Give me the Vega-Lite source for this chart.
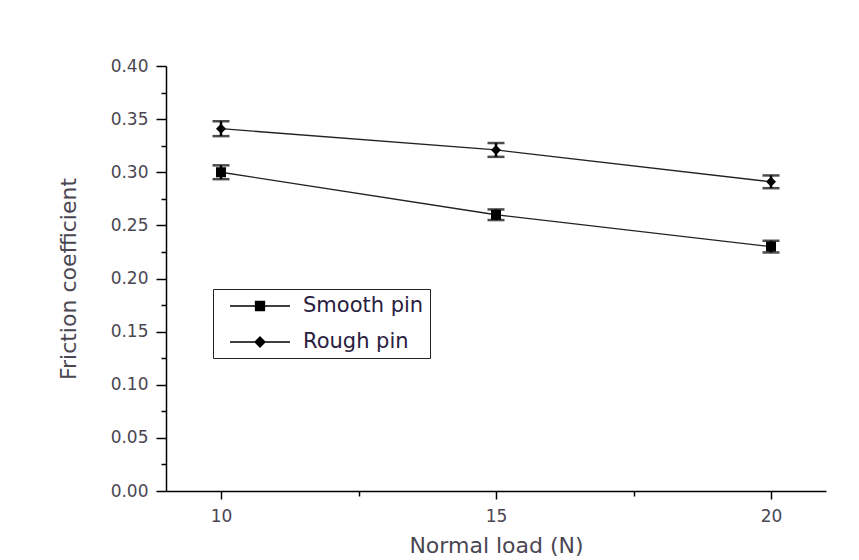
{
  "$schema": "https://vega.github.io/schema/vega-lite/v6.json",
  "width": 660,
  "height": 425,
  "autosize": {"type": "none"},
  "padding": {"left": 166, "top": 66, "right": 33, "bottom": 69},
  "background": "white",
  "config": {"view": {"stroke": null}, "font": "DejaVu Sans"},
  "data": {
    "values": [
      {"load": 10, "series": "Smooth pin", "mu": 0.300, "lo": 0.2935, "hi": 0.3065},
      {"load": 15, "series": "Smooth pin", "mu": 0.260, "lo": 0.255, "hi": 0.265},
      {"load": 20, "series": "Smooth pin", "mu": 0.230, "lo": 0.2245, "hi": 0.2355},
      {"load": 10, "series": "Rough pin", "mu": 0.341, "lo": 0.334, "hi": 0.348},
      {"load": 15, "series": "Rough pin", "mu": 0.321, "lo": 0.3145, "hi": 0.3275},
      {"load": 20, "series": "Rough pin", "mu": 0.291, "lo": 0.285, "hi": 0.297}
    ]
  },
  "layer": [
    {
      "mark": {"type": "rule", "color": "black", "strokeWidth": 2.5},
      "encoding": {
        "x": {"field": "load", "type": "quantitative", "scale": {"domain": [9, 21], "nice": false, "zero": false},
          "axis": {"orient": "bottom", "values": [12.5, 17.5], "labels": false, "domain": false, "grid": false, "tickSize": 5, "tickWidth": 1.5, "tickColor": "black", "title": null}},
        "y": {"field": "lo", "type": "quantitative", "scale": {"domain": [0, 0.4], "nice": false, "zero": true},
          "axis": {"orient": "left", "values": [0.025, 0.075, 0.125, 0.175, 0.225, 0.275, 0.325, 0.375], "labels": false, "domain": false, "grid": false, "tickSize": 5, "tickWidth": 1.5, "tickColor": "black", "title": null}},
        "y2": {"field": "hi"}
      }
    },
    {
      "mark": {"type": "tick", "orient": "horizontal", "size": 17, "thickness": 2.5, "color": "black"},
      "encoding": {
        "x": {"field": "load", "type": "quantitative", "axis": null},
        "y": {"field": "lo", "type": "quantitative", "axis": null}
      }
    },
    {
      "mark": {"type": "tick", "orient": "horizontal", "size": 17, "thickness": 2.5, "color": "black"},
      "encoding": {
        "x": {"field": "load", "type": "quantitative", "axis": null},
        "y": {"field": "hi", "type": "quantitative", "axis": null}
      }
    },
    {
      "mark": {"type": "line", "color": "#222", "strokeWidth": 1.3},
      "encoding": {
        "x": {"field": "load", "type": "quantitative",
          "axis": {"orient": "bottom", "values": [10, 15, 20], "grid": false, "tickSize": 8, "tickWidth": 1.5, "tickColor": "black", "domainColor": "black", "domainWidth": 1.5, "labelFont": "DejaVu Sans", "labelFontSize": 17, "labelColor": "#4a4652", "labelPadding": 9, "title": "Normal load (N)", "titleFont": "DejaVu Sans", "titleFontSize": 22, "titleFontWeight": "normal", "titleColor": "#4a4652", "titlePadding": 11}},
        "y": {"field": "mu", "type": "quantitative",
          "axis": {"orient": "left", "values": [0, 0.05, 0.1, 0.15, 0.2, 0.25, 0.3, 0.35, 0.4], "format": ".2f", "grid": false, "tickSize": 10, "tickWidth": 1.5, "tickColor": "black", "domainColor": "black", "domainWidth": 1.5, "labelFont": "DejaVu Sans", "labelFontSize": 17, "labelColor": "#4a4652", "labelPadding": 8, "title": "Friction coefficient", "titleFont": "DejaVu Sans", "titleFontSize": 22, "titleFontWeight": "normal", "titleColor": "#4a4652", "titlePadding": 30}},
        "detail": {"field": "series"}
      }
    },
    {
      "mark": {"type": "point", "filled": true, "color": "black", "opacity": 1, "size": 100},
      "encoding": {
        "x": {"field": "load", "type": "quantitative", "axis": null},
        "y": {"field": "mu", "type": "quantitative", "axis": null},
        "shape": {"condition": {"test": "datum.series === 'Smooth pin'", "value": "square"}, "value": "diamond"}
      }
    },
    {
      "mark": {"type": "point", "filled": false, "color": "black", "strokeWidth": 1.3, "opacity": 1, "size": 0},
      "encoding": {
        "x": {"field": "load", "type": "quantitative", "axis": null},
        "y": {"field": "mu", "type": "quantitative", "axis": null},
        "shape": {"field": "series", "type": "nominal",
          "scale": {"domain": ["Smooth pin", "Rough pin"], "range": [
            "M0,0H6M2.55,-0.45H3.45V0.45H2.55ZM2.55,-0.35H3.45M2.55,-0.25H3.45M2.55,-0.15H3.45M2.55,-0.05H3.45M2.55,0.05H3.45M2.55,0.15H3.45M2.55,0.25H3.45M2.55,0.35H3.45",
            "M0,0H6M3,-0.5L3.5,0L3,0.5L2.5,0ZM2.6,-0.1H3.4M2.7,-0.2H3.3M2.8,-0.3H3.2M2.9,-0.4H3.1M2.6,0.1H3.4M2.7,0.2H3.3M2.8,0.3H3.2M2.9,0.4H3.1"
          ]},
          "legend": {
            "orient": "none", "legendX": 47, "legendY": 223,
            "title": null, "padding": 6, "rowPadding": 15,
            "strokeColor": "#222",
            "symbolSize": 400, "labelOffset": 62,
            "symbolStrokeColor": "black", "symbolStrokeWidth": 1.3,
            "labelFont": "DejaVu Sans", "labelFontSize": 21, "labelColor": "#2a2040"
          }}
      }
    }
  ],
  "resolve": {"axis": {"x": "independent", "y": "independent"}}
}
